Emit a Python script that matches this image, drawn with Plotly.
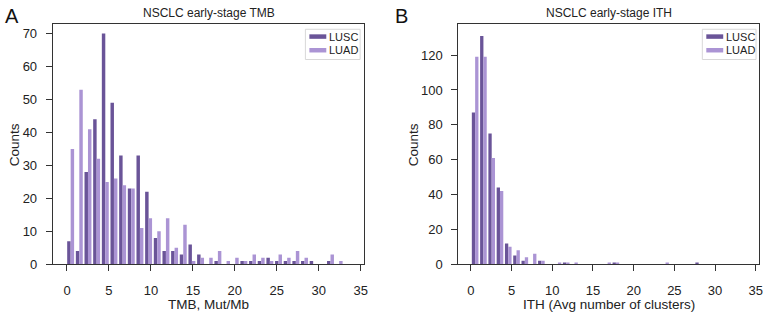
import numpy as np
import plotly.graph_objects as go

# ---- data (histogram counts) ----
series_names = ["LUSC", "LUAD"]

tmb_bin_start = -0.08
tmb_bin_width = 1.032
tmb_lusc = [7, 4, 28, 44, 70, 49, 33, 23, 33, 22, 8, 4, 4, 3, 6, 3,
            0, 1, 0, 0, 1, 1, 1, 2, 1, 1, 1, 1, 1, 0, 1, 0]
tmb_luad = [35, 53, 41, 32, 25, 26, 24, 23, 11, 14, 10, 14, 5, 12, 1, 2,
            2, 4, 1, 2, 1, 3, 2, 1, 3, 2, 4, 2, 0, 0, 3, 1]

ith_bin_start = 0.02
ith_bin_width = 1.017
ith_lusc = [87, 131, 75, 44, 12, 5, 2, 0, 2, 0, 0, 1, 0, 0, 0, 0, 0, 1,
            0, 0, 0, 0, 0, 0, 0, 0, 0, 1]
ith_luad = [119, 119, 61, 42, 10, 8, 4, 6, 2, 0, 1, 1, 1, 0, 0, 0, 1, 1,
            0, 0, 0, 0, 0, 1, 0, 0, 0, 0]

x_ticks = [0, 5, 10, 15, 20, 25, 30, 35]
tmb_y_ticks = [0, 10, 20, 30, 40, 50, 60, 70]
ith_y_ticks = [0, 20, 40, 60, 80, 100, 120]

titles = ["NSCLC early-stage TMB", "NSCLC early-stage ITH"]
x_titles = ["TMB, Mut/Mb", "ITH (Avg number of clusters)"]
y_title = "Counts"
panel_letters = ["A", "B"]

colors = ["#6a5498", "#ab94d4"]

W, H = 768, 324
FONT = "Liberation Sans, Arial, Helvetica, sans-serif"

fig = go.Figure()


def centers(start, width, n):
    return start + width * (np.arange(n) + 0.5)


panels = [
    (tmb_bin_start, tmb_bin_width, tmb_lusc, tmb_luad, "x", "y"),
    (ith_bin_start, ith_bin_width, ith_lusc, ith_luad, "x2", "y2"),
]
for start, width, lusc, luad, xa, ya in panels:
    xc = centers(start, width, len(lusc))
    bw = 0.4 * width
    for vals, name, col, off in [(lusc, series_names[0], colors[0], -bw),
                                 (luad, series_names[1], colors[1], 0.0)]:
        fig.add_trace(go.Bar(x=xc, y=vals, name=name, xaxis=xa, yaxis=ya,
                             width=bw, offset=off, marker_color=col,
                             marker_line_width=0, showlegend=False))

px = lambda v: v / W
py = lambda v: 1 - v / H

axis_common = dict(showline=True, linecolor="#333333", linewidth=1, mirror=True,
                   ticks="outside", ticklen=6, tickcolor="#333333", showgrid=False,
                   zeroline=False, tickfont=dict(family=FONT, size=13, color="#222"))

fig.update_layout(
    width=W, height=H, margin=dict(l=0, r=0, t=0, b=0),
    plot_bgcolor="white", paper_bgcolor="white", barmode="overlay",
    xaxis=dict(domain=[px(53), px(366)], range=[-1.7, 35.4], tickvals=x_ticks,
               anchor="y", ticklabelstandoff=8, **axis_common),
    yaxis=dict(domain=[py(271), py(25)], range=[0, 72.8], tickvals=tmb_y_ticks,
               anchor="x", ticklabelstandoff=6, **axis_common),
    xaxis2=dict(domain=[px(460.7), px(763)], range=[-1.54, 35.4], tickvals=x_ticks,
                anchor="y2", ticklabelstandoff=8, **axis_common),
    yaxis2=dict(domain=[py(271), py(25)], range=[0, 137.6], tickvals=ith_y_ticks,
                anchor="x2", ticklabelstandoff=6, **axis_common),
    showlegend=False,
)

annots = []
shapes = []
for i, (cx, lx, lg_x0, lg_x1) in enumerate([(210, 12, 307, 362), (612, 404, 706, 760)]):
    annots.append(dict(text=titles[i], x=px(cx), y=py(13), xref="paper", yref="paper",
                       xanchor="center", yanchor="middle", showarrow=False,
                       font=dict(family=FONT, size=12, color="#222")))
    annots.append(dict(text=panel_letters[i], x=px(lx), y=py(16), xref="paper",
                       yref="paper", xanchor="center", yanchor="middle", showarrow=False,
                       font=dict(family=FONT, size=20, color="#111")))
    annots.append(dict(text=x_titles[i], x=px(cx), y=py(312), xref="paper",
                       yref="paper", xanchor="center", yanchor="middle", showarrow=False,
                       font=dict(family=FONT, size=13.5, color="#222")))
    # legend (frame, swatches, labels)
    shapes.append(dict(type="rect", xref="paper", yref="paper",
                       x0=px(lg_x0), x1=px(lg_x1), y0=py(61), y1=py(30),
                       line=dict(color="#d8d8d8", width=1), fillcolor="white"))
    for j, (name, col) in enumerate(zip(series_names, colors)):
        yc = 37.5 + 14 * j
        shapes.append(dict(type="rect", xref="paper", yref="paper",
                           x0=px(lg_x0 + 4), x1=px(lg_x0 + 21),
                           y0=py(yc + 2.3), y1=py(yc - 2.3),
                           line=dict(width=0), fillcolor=col))
        annots.append(dict(text=name, x=px(lg_x0 + 22), y=py(yc), xref="paper",
                           yref="paper", xanchor="left", yanchor="middle",
                           showarrow=False,
                           font=dict(family=FONT, size=11, color="#222")))
for ax in [14, 416]:
    annots.append(dict(text=y_title, x=px(ax), y=py(148), xref="paper", yref="paper",
                       xanchor="center", yanchor="middle", showarrow=False,
                       textangle=-90, font=dict(family=FONT, size=13.5, color="#222")))
fig.update_layout(annotations=annots, shapes=shapes)

fig.write_html("out.html", config={"displayModeBar": False},
               post_script="document.body.style.margin='0px';"
                           "document.body.style.overflow='hidden';")
